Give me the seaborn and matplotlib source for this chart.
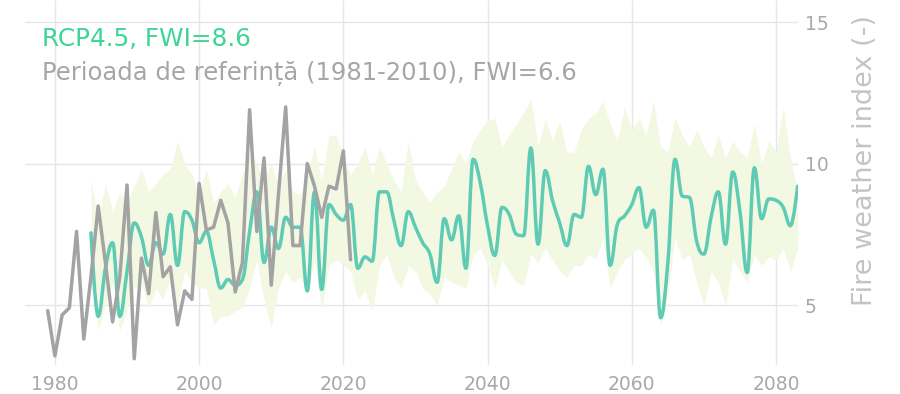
import numpy as np
import pandas as pd
import seaborn as sns
import matplotlib
matplotlib.use("Agg")
import matplotlib.pyplot as plt
from matplotlib.path import Path
from matplotlib.patches import PathPatch

# observed fire weather index (reference period)
obs_years = list(range(1979, 2022))
obs_fwi = [4.8, 3.2, 4.65, 4.9, 7.6, 3.8, 6.0, 8.5, 6.5, 4.4,
           6.0, 9.24, 3.1, 6.66, 5.4, 8.27, 6.0, 6.35, 4.3, 5.5,
           5.2, 9.3, 7.65, 7.75, 8.7, 7.9, 5.46, 6.5, 11.9, 7.6,
           10.2, 5.7, 8.9, 12.0, 7.1, 7.1, 10.0, 9.2, 8.1, 9.2,
           9.1, 10.45, 6.6]

# RCP4.5 model median and spread
rcp_years = list(range(1985, 2084))
rcp_fwi = [7.55, 4.6, 6.3, 7.2, 4.6, 6.2, 7.9, 7.4, 6.4, 7.2,
           6.8, 8.2, 6.4, 8.3, 8.0, 7.2, 7.6, 6.6, 5.6, 5.9,
           5.7, 5.9, 7.6, 9.0, 6.5, 7.75, 7.0, 8.1, 7.75, 7.75,
           5.5, 9.0, 5.55, 8.55, 8.2, 8.0, 8.55, 6.3, 6.7, 6.55,
           9.0, 9.0, 8.0, 7.1, 8.3, 7.75, 7.2, 6.8, 5.8, 8.05,
           7.3, 8.15, 6.3, 10.15, 9.3, 7.8, 6.75, 8.45, 8.2, 7.5,
           7.45, 10.55, 7.15, 9.75, 8.7, 7.9, 7.1, 8.2, 8.1, 9.9,
           8.9, 9.8, 6.4, 7.85, 8.15, 8.55, 9.15, 7.75, 8.35, 4.55,
           6.5, 10.15, 8.85, 8.8, 7.25, 6.8, 8.1, 9.0, 7.15, 9.7,
           8.3, 6.15, 9.85, 8.05, 8.75, 8.7, 8.45, 7.8, 9.2]
rcp_high = [9.4, 8.0, 9.3, 8.3, 9.0, 8.6, 9.2, 9.8, 9.0, 9.3,
            9.6, 9.8, 10.8, 10.0, 9.6, 9.0, 9.8, 8.6, 9.0, 9.3,
            8.8, 9.6, 10.3, 10.0, 9.4, 10.0, 9.2, 9.8, 9.0, 8.9,
            9.6, 10.6, 9.4, 11.0, 11.0, 10.2, 9.6, 10.0, 10.6, 9.6,
            10.6, 10.0, 9.4, 9.0, 10.8, 9.4, 9.0, 8.6, 9.0, 9.2,
            9.8, 10.4, 10.0, 10.8, 11.2, 11.5, 11.6, 10.6, 11.0, 11.4,
            11.8, 12.3, 10.6, 11.6, 10.8, 11.5, 10.4, 10.4, 11.2, 11.6,
            11.8, 12.2, 11.4, 10.8, 12.0, 11.2, 11.6, 11.0, 12.2, 10.6,
            10.4, 11.6, 11.0, 10.6, 11.2, 10.6, 10.2, 11.0, 10.2, 10.8,
            10.4, 10.2, 11.4, 10.0, 10.8, 10.4, 12.0, 10.2, 9.0]
rcp_low = [6.0, 4.1, 5.0, 5.8, 4.1, 4.8, 5.6, 5.8, 4.9, 5.6,
           5.2, 6.0, 5.0, 6.2, 5.8, 5.6, 5.6, 4.3, 4.6, 4.6,
           4.8, 4.9, 5.6, 6.6, 5.2, 4.2, 5.6, 6.2, 5.8, 6.0,
           5.4, 6.6, 4.8, 6.4, 6.6, 6.4, 6.2, 5.2, 5.5, 4.8,
           6.4, 6.8, 6.0, 5.6, 6.4, 6.2, 5.6, 5.4, 5.0, 6.0,
           5.8, 5.7, 5.6, 6.8, 7.0, 6.4, 5.6, 6.6, 6.2, 5.8,
           5.7, 6.8, 6.5, 7.0, 6.6, 6.2, 6.0, 6.4, 6.4, 6.8,
           6.6, 7.4, 5.6, 6.2, 6.6, 6.8, 7.0, 6.7, 6.2, 4.3,
           5.4, 7.4, 6.6, 6.8, 5.8, 5.0, 6.2, 5.8, 5.0, 6.6,
           6.2, 5.8, 6.8, 6.4, 6.7, 6.6, 7.0, 6.2, 7.0]

x_ticks = [1980, 2000, 2020, 2040, 2060, 2080]
y_ticks = [5, 10, 15]


def spline_path(xs, ys, smoothing=1.5):
    # bezier path in the style of a highcharts "spline" series
    xs = np.asarray(xs, float)
    ys = np.asarray(ys, float)
    n = len(xs)
    left = [(xs[i], ys[i]) for i in range(n)]
    right = [(xs[i], ys[i]) for i in range(n)]
    d = smoothing + 1
    for i in range(1, n - 1):
        lx = (smoothing * xs[i] + xs[i - 1]) / d
        ly = (smoothing * ys[i] + ys[i - 1]) / d
        rx = (smoothing * xs[i] + xs[i + 1]) / d
        ry = (smoothing * ys[i] + ys[i + 1]) / d
        if rx != lx:
            corr = (ry - ly) * (rx - xs[i]) / (rx - lx) + ys[i] - ry
            ly += corr
            ry += corr
        if ly > max(ys[i - 1], ys[i]):
            ly = max(ys[i - 1], ys[i]); ry = 2 * ys[i] - ly
        elif ly < min(ys[i - 1], ys[i]):
            ly = min(ys[i - 1], ys[i]); ry = 2 * ys[i] - ly
        if ry > max(ys[i + 1], ys[i]):
            ry = max(ys[i + 1], ys[i]); ly = 2 * ys[i] - ry
        elif ry < min(ys[i + 1], ys[i]):
            ry = min(ys[i + 1], ys[i]); ly = 2 * ys[i] - ry
        left[i] = (lx, ly)
        right[i] = (rx, ry)
    verts = [(xs[0], ys[0])]
    codes = [Path.MOVETO]
    for i in range(1, n):
        verts += [right[i - 1], left[i], (xs[i], ys[i])]
        codes += [Path.CURVE4] * 3
    return Path(verts, codes)


sns.set_style("white")
plt.rcParams["font.family"] = ["DejaVu Sans"]

obs = pd.DataFrame({"year": obs_years, "fwi": obs_fwi})
rcp = pd.DataFrame({"year": rcp_years, "fwi": rcp_fwi, "low": rcp_low, "high": rcp_high})

fig = plt.figure(figsize=(9, 3.94), dpi=100)
ax = fig.add_axes([25 / 900, 29 / 394, 773 / 900, 365 / 394])

ax.fill_between(rcp["year"], rcp["low"], rcp["high"], color="#f2f8e2", lw=0, zorder=1)
ax.add_patch(PathPatch(spline_path(rcp["year"], rcp["fwi"]), facecolor="none",
                       edgecolor="#5fcbb5", lw=2.5, capstyle="round", joinstyle="round", zorder=3))
sns.lineplot(data=obs, x="year", y="fwi", color="#a3a3a3", lw=2.5, ax=ax, zorder=4)

ax.set_xlim(1975.85, 2083.05)
ax.set_ylim(2.88, 15.78)
ax.set_xticks(x_ticks)
ax.set_yticks(y_ticks)
ax.yaxis.tick_right()
ax.grid(True, color="#e6e6e6", lw=1)
ax.set_axisbelow(True)
for s in ax.spines.values():
    s.set_visible(False)
ax.tick_params(axis="both", length=0, labelcolor="#a8a8a8", labelsize=13.5)
ax.tick_params(axis="x", pad=7)
ax.tick_params(axis="y", pad=5)
ax.set_xlabel("")
ax.set_ylabel("Fire weather index (-)", color="#c4c4c4", fontsize=19.5)
ax.yaxis.set_label_position("right")
ax.yaxis.set_label_coords(1.07, 0.56)

fig.text(42 / 900, 1 - 46 / 394, "RCP4.5, FWI=8.6", color="#3dd598", fontsize=17.8, va="baseline")
fig.text(42 / 900, 1 - 80 / 394, "Perioada de referință (1981-2010), FWI=6.6", color="#a6a6a6",
         fontsize=17.5, va="baseline")

fig.savefig("out.png", dpi=100)
